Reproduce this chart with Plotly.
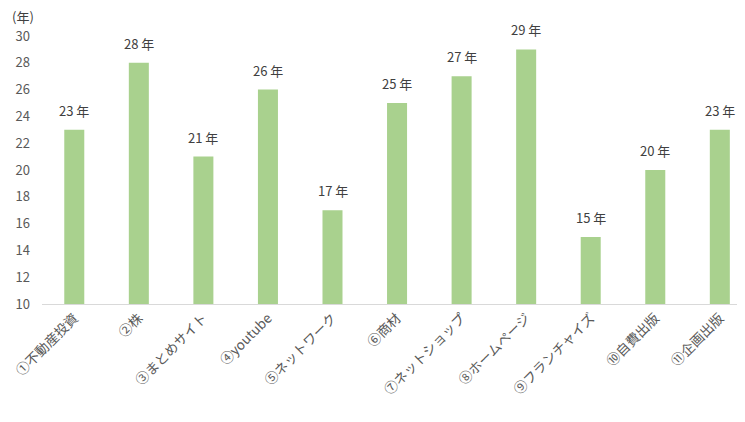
import plotly.graph_objects as go

# categories and years
categories = ['①不動産投資', '②株', '③まとめサイト', '④youtube', '⑤ネットワーク',
              '⑥商材', '⑦ネットショップ', '⑧ホームページ', '⑨フランチャイズ',
              '⑩自費出版', '⑪企画出版']
years = [23, 28, 21, 26, 17, 25, 27, 29, 15, 20, 23]
y_ticks = list(range(10, 31, 2))

FONT = "Noto Sans CJK JP"
BAR_COLOR = "#A9D18E"

fig = go.Figure()
fig.add_trace(go.Bar(
    x=categories,
    y=years,
    marker=dict(color=BAR_COLOR, line=dict(width=0)),
    hoverinfo='x+y',
))

# value labels above the bars
for c, v in zip(categories, years):
    fig.add_annotation(
        x=c, y=v, text=f"{v} 年", showarrow=False,
        yanchor='bottom', yshift=8,
        font=dict(family=FONT, size=13, color="#404040"),
    )

fig.add_annotation(
    xref='paper', yref='paper', x=-0.046, y=1.0, yshift=20,
    xanchor='left', yanchor='middle', text="(年)", showarrow=False,
    font=dict(family=FONT, size=13, color="#404040"),
)

# the page puts the figure 8px in from the corner, so size it to fit
fig.update_layout(
    width=737, height=414,
    margin=dict(l=34, r=0, t=28, b=118),
    plot_bgcolor='white', paper_bgcolor='white',
    bargap=0.69,
    showlegend=False,
    font=dict(family=FONT, size=13, color="#595959"),
)
fig.update_xaxes(
    range=[-0.5, 10.39],
    tickangle=-45,
    automargin=False,
    showline=True, linecolor="#D9D9D9", linewidth=1,
    ticks='', showgrid=False,
    tickfont=dict(family=FONT, size=13.5, color="#595959"),
)
fig.update_yaxes(
    range=[10, 30],
    tickvals=y_ticks,
    automargin=False,
    showgrid=False, zeroline=False, showline=False,
    ticks='', ticklabelstandoff=11,
    tickfont=dict(family=FONT, size=13, color="#595959"),
)

fig.write_html("out.html")
